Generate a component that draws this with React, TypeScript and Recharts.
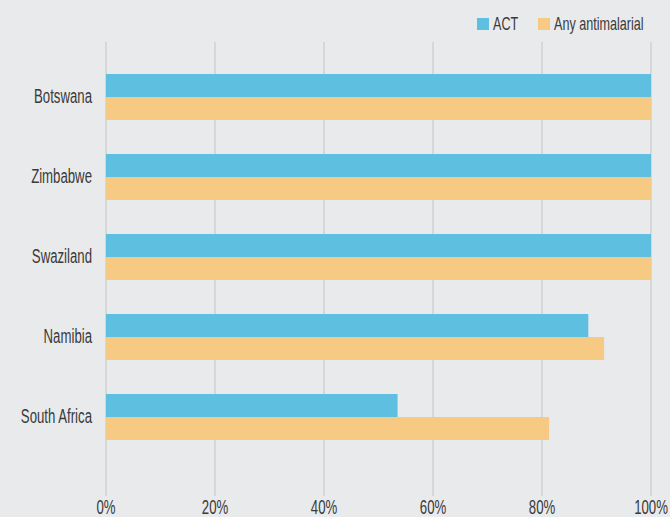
import { Bar, BarChart, CartesianGrid, XAxis, YAxis } from 'recharts';

const countries = ['Botswana', 'Zimbabwe', 'Swaziland', 'Namibia', 'South Africa'];
const act = [100, 100, 100, 88.5, 53.5];
const anyAntimalarial = [100, 100, 100, 91.4, 81.3];
const xTicks = [0, 20, 40, 60, 80, 100];

const font = "'Liberation Sans', Arial, sans-serif";
const textColor = '#3a3a3a';
const squeeze = 0.66; // condensed look

const data = countries.map((country, i) => ({ country, act: act[i], any: anyAntimalarial[i] }));

const legendItems = [
  { label: 'ACT', color: '#5fbfe0', x: 477 },
  { label: 'Any antimalarial', color: '#f6ca82', x: 538 },
];

function XTick(props: any) {
  const { x, y, payload } = props;
  return (
    <g transform={`translate(${x},${y})`}>
      <text transform={`scale(${squeeze},1)`} textAnchor="middle" dy={17.5} fontSize={20} fill={textColor} fontFamily={font}>
        {`${payload.value}%`}
      </text>
    </g>
  );
}

function YTick(props: any) {
  const { x, y, payload } = props;
  return (
    <g transform={`translate(${x},${y})`}>
      <text transform={`scale(${squeeze},1)`} textAnchor="end" dy={5.5} fontSize={20} fill={textColor} fontFamily={font}>
        {payload.value}
      </text>
    </g>
  );
}

function ChartLegend() {
  return (
    <svg width={670} height={40} style={{ position: 'absolute', left: 0, top: 0 }}>
      {legendItems.map((item) => (
        <g key={item.label}>
          <rect x={item.x} y={18} width={12} height={12} fill={item.color} />
          <g transform={`translate(${item.x + 16},29.5)`}>
            <text transform="scale(0.7,1)" fontSize={18} fill={textColor} fontFamily={font}>
              {item.label}
            </text>
          </g>
        </g>
      ))}
    </svg>
  );
}

export default function App() {
  return (
    <div style={{ position: 'absolute', left: 0, top: 0, width: 670, height: 517, background: '#e9eaec' }}>
      <BarChart
        width={670}
        height={517}
        data={data}
        layout="vertical"
        margin={{ top: 42, right: 19, left: 0, bottom: 0 }}
        barGap={0}
        barSize={23}
      >
        <CartesianGrid horizontal={false} stroke="#cfd0d3" strokeWidth={1.5} />
        <XAxis
          type="number"
          domain={[0, 100]}
          ticks={xTicks}
          axisLine={false}
          tickLine={false}
          tickSize={0}
          tickMargin={0}
          height={21}
          tick={<XTick />}
        />
        <YAxis
          type="category"
          dataKey="country"
          width={106}
          axisLine={false}
          tickLine={false}
          tickSize={0}
          tickMargin={14}
          padding={{ top: 15, bottom: 39 }}
          tick={<YTick />}
        />
        <Bar dataKey="act" name="ACT" fill="#5fbfe0" isAnimationActive={false} />
        <Bar dataKey="any" name="Any antimalarial" fill="#f6ca82" isAnimationActive={false} />
      </BarChart>
      <ChartLegend />
    </div>
  );
}
